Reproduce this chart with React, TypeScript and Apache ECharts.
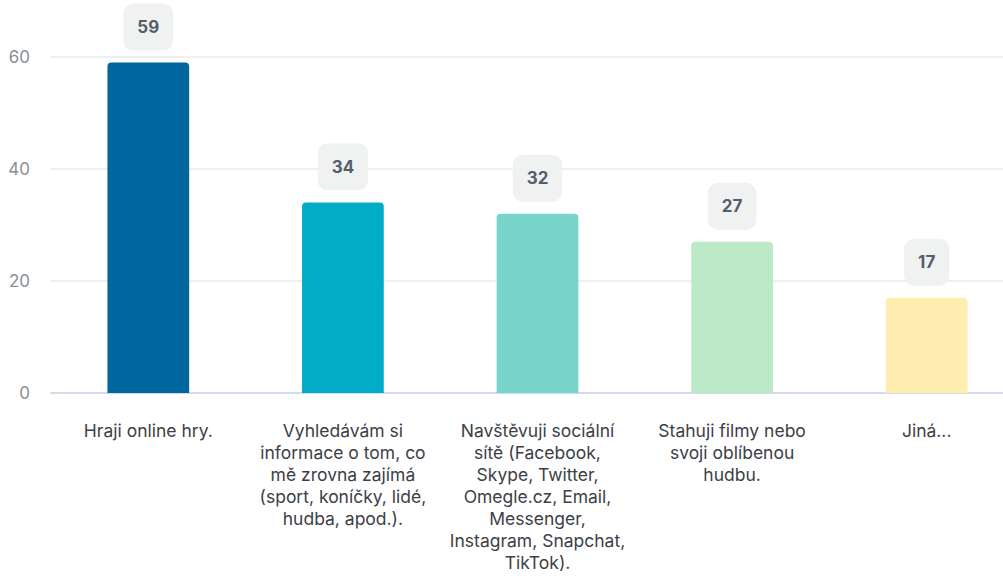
import React, { useEffect, useRef } from "react";
import * as echarts from "echarts";

const categories = [
  "Hraji online hry.",
  "Vyhledávám si\ninformace o tom, co\nmě zrovna zajímá\n(sport, koníčky, lidé,\nhudba, apod.).",
  "Navštěvuji sociální\nsítě (Facebook,\nSkype, Twitter,\nOmegle.cz, Email,\nMessenger,\nInstagram, Snapchat,\nTikTok).",
  "Stahuji filmy nebo\nsvoji oblíbenou\nhudbu.",
  "Jiná...",
];
const values = [59, 34, 32, 27, 17];
const barColors = ["#00669e", "#00acc6", "#79d5cb", "#bce9c8", "#ffedb0"];
const yTicks = { min: 0, max: 60, interval: 20 };

export default function App() {
  const ref = useRef<HTMLDivElement>(null);
  useEffect(() => {
    document.body.style.margin = "0";
    const chart = echarts.init(ref.current!, null, { renderer: "svg" });
    chart.setOption({
      animation: false,
      textStyle: { fontFamily: "Inter" },
      grid: { left: 51, right: 0, top: 57, bottom: 185, containLabel: false },
      xAxis: {
        type: "category",
        data: categories,
        axisLine: { show: true, lineStyle: { color: "#d5dbe8", width: 2 } },
        axisTick: { show: false },
        axisLabel: {
          interval: 0,
          color: "#3c4047",
          fontSize: 17.5,
          lineHeight: 22,
          margin: 26,
          fontFamily: "Inter",
          align: "center",
        },
      },
      yAxis: {
        type: "value",
        min: yTicks.min,
        max: yTicks.max,
        interval: yTicks.interval,
        axisLine: { show: false },
        axisTick: { show: false },
        axisLabel: { color: "#8a8f96", fontSize: 17, margin: 21, fontFamily: "Inter" },
        splitLine: { lineStyle: { color: "#e9eaec", width: 1.5 } },
      },
      series: [
        {
          type: "bar",
          data: values.map((v, i) => ({ value: v, itemStyle: { color: barColors[i] } })),
          barWidth: "42%",
          itemStyle: { borderRadius: [4, 4, 0, 0] },
          label: {
            show: true,
            position: "top",
            distance: 12,
            color: "#555e6b",
            fontWeight: "bold",
            fontSize: 17,
            fontFamily: "Inter",
            lineHeight: 17,
            backgroundColor: "#f0f2f2",
            borderRadius: 10,
            padding: [15, 14, 15, 14],
          },
        },
      ],
    });
    return () => chart.dispose();
  }, []);
  return (
    <div style={{ width: 1003, height: 578, overflow: "hidden" }}>
      <div ref={ref} style={{ width: 1024, height: 578 }} />
    </div>
  );
}
